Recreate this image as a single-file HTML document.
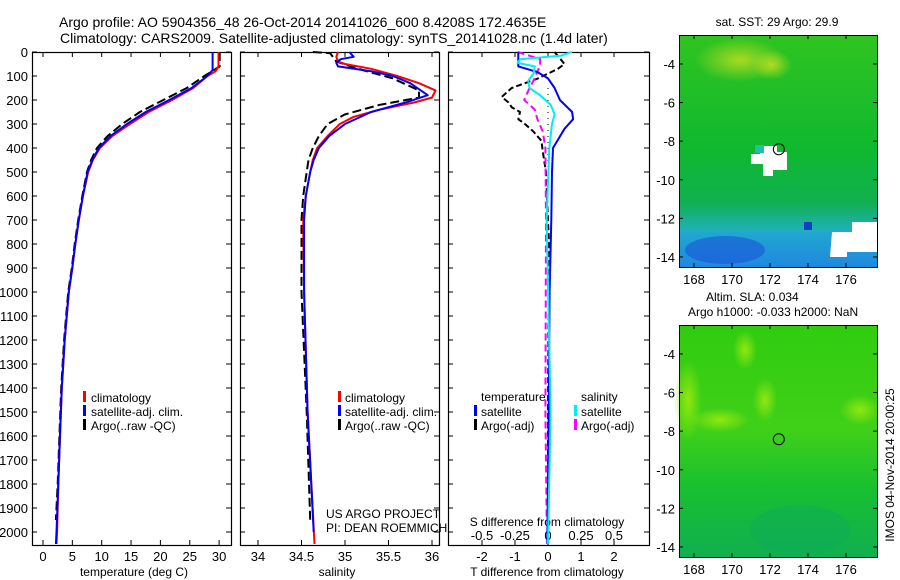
<!DOCTYPE html>
<html><head><meta charset="utf-8"><style>
html,body{margin:0;padding:0;background:#fff;}
svg{display:block;font-family:"Liberation Sans",sans-serif;}
</style></head><body>
<svg id="fig" width="900" height="580" viewBox="0 0 900 580">
<defs>
<radialGradient id="yel1" cx="0.5" cy="0.5" r="0.5"><stop offset="0" stop-color="#c8e020" stop-opacity="0.8"/><stop offset="1" stop-color="#c8e020" stop-opacity="0"/></radialGradient>
<linearGradient id="sstg" x1="0" y1="0" x2="0" y2="1">
<stop offset="0" stop-color="#30c420"/><stop offset="0.5" stop-color="#10b830"/><stop offset="0.72" stop-color="#10b050"/><stop offset="0.85" stop-color="#20b0c0"/><stop offset="1" stop-color="#2070e0"/></linearGradient>
<linearGradient id="slag" x1="0" y1="0" x2="0" y2="1">
<stop offset="0" stop-color="#30cc10"/><stop offset="0.45" stop-color="#40d018"/><stop offset="0.7" stop-color="#18c030"/><stop offset="1" stop-color="#10b050"/></linearGradient>
<radialGradient id="lime" cx="0.5" cy="0.5" r="0.5"><stop offset="0" stop-color="#90e810"/><stop offset="1" stop-color="#90e810" stop-opacity="0"/></radialGradient>
</defs>
<g id="titles" font-size="14" fill="#000">
<text x="59" y="27">Argo profile: AO 5904356_48 26-Oct-2014 20141026_600 8.4208S 172.4635E</text>
<text x="60" y="43">Climatology: CARS2009. Satellite-adjusted climatology: synTS_20141028.nc (1.4d later)</text>
</g>
<g id="plots"></g>
<g id="maps"></g>
</svg>
<script>
// ---------- data ----------
const depthLabels = [0,100,200,300,400,500,600,700,800,900,1000,1100,1200,1300,1400,1500,1600,1700,1800,1900,2000];
const tTicks = [0,5,10,15,20,25,30];
const sTicks = [34,34.5,35,35.5,36];
const sTickLabels = ["34","34.5","35","35.5","36"];
const dTTicks = [-2,-1,0,1,2];
const dSTicks = [-0.5,-0.25,0,0.25,0.5];
const dSTickLabels = ["-0.5","-0.25","0","0.25","0.5"];

const tClimDepth = [0,60,80,100,150,200,250,300,350,400,450,500,600,700,800,900,1000,1200,1400,1600,1800,2000,2050];
const tClim = [29.9,29.9,29.4,28.0,25.6,22.0,18.0,14.8,11.8,9.7,8.5,7.7,6.8,6.1,5.5,5.0,4.4,3.7,3.2,2.9,2.6,2.4,2.3];
const tSatDepth = [0,75,100,150,200,250,300,350,400,450,500,600,700,800,900,1000,1200,1400,1600,1800,2000,2050];
const tSat = [28.9,28.9,28.0,25.3,21.5,17.5,14.3,11.5,9.5,8.4,7.6,6.8,6.1,5.5,5.0,4.4,3.7,3.2,2.9,2.6,2.3,2.2];
const tArgoDepth = [0,60,100,150,200,250,300,350,400,450,500,600,700,800,900,1000,1200,1400,1600,1800,1950];
const tArgo = [30.1,30.1,27.5,24.5,20.5,16.5,13.5,11.0,9.2,8.2,7.5,6.7,6.0,5.4,4.9,4.3,3.6,3.1,2.8,2.5,2.2];

const sClimDepth = [0,20,40,50,70,100,130,160,190,210,240,270,300,350,400,450,500,600,700,1000,1500,2050];
const sClim = [34.92,34.9,34.92,35.0,35.3,35.6,35.85,36.04,36.0,35.8,35.4,35.1,34.94,34.8,34.68,34.63,34.6,34.55,34.52,34.53,34.57,34.65];
const sSatDepth = [0,20,30,45,60,80,100,130,180,210,250,300,350,400,450,500,600,700,1000,1500,2000];
const sSat = [35.05,35.1,34.95,34.9,34.92,35.3,35.55,35.75,35.95,35.7,35.3,35.0,34.82,34.7,34.64,34.6,34.55,34.53,34.53,34.57,34.64];
const sArgoDepth = [0,5,40,75,110,160,190,220,260,300,350,400,450,500,600,700,1000,1500,1950];
const sArgo = [34.63,34.83,34.9,35.2,35.55,35.85,35.85,35.4,35.0,34.8,34.7,34.63,34.58,34.56,34.52,34.5,34.5,34.56,34.6];

const dTSatDepth = [0,60,83,110,150,200,250,280,320,400,500,700,1000,1500,2050];
const dTSat = [-0.9,-0.9,-0.33,0,0.2,0.36,0.73,0.76,0.5,0.15,0.12,0.1,0.05,0.02,-0.02];
const dTArgoDepth = [0,50,70,90,110,150,187,210,230,250,280,300,330,370,420,500,800,1500,1950];
const dTArgo = [0.2,0.5,0.3,0,-0.3,-1.1,-1.4,-1.2,-1.1,-0.85,-0.9,-0.7,-0.45,-0.2,-0.15,-0.06,0.03,0.0,0.0];
const dSSatDepth = [0,15,30,45,60,90,120,150,180,220,260,300,400,700,1500,2050];
const dSSat = [0.18,0.1,-0.21,-0.23,-0.1,-0.11,-0.15,-0.14,-0.06,0.02,0.05,0.03,0.01,-0.01,0.02,0.0];
const dSArgoDepth = [0,30,60,80,110,150,200,240,280,330,400,700,1500,1950];
const dSArgo = [-0.23,-0.06,-0.06,-0.08,-0.1,-0.14,-0.18,-0.1,-0.08,-0.04,-0.02,-0.015,-0.02,-0.01];

const mapLats = [-4,-6,-8,-10,-12,-14];
const mapLons = [168,170,172,174,176];
const argoLon = 172.4635, argoLat = -8.4208;

// ---------- helpers ----------
const NS="http://www.w3.org/2000/svg";
function mk(tag, attrs, parent){const e=document.createElementNS(NS,tag);for(const k in attrs)e.setAttribute(k,attrs[k]);parent.appendChild(e);return e;}
const plots=document.getElementById('plots');
const maps=document.getElementById('maps');
const Y0=52, Y1=545, PXM=0.24;
const yD = d => Y0 + d*PXM;
const xT = v => 43 + v*5.87;
const xS = v => 258 + (v-34)*87;
const xDT = v => 548 + v*33;
const xDS = v => 548 + v*132;

function frame(x0,x1,name){
  const r=mk('rect',{x:x0+0.5,y:Y0+0.5,width:x1-x0,height:Y1-Y0,fill:'none',stroke:'#000','stroke-width':1.2},plots);
  
  
}
function xticks(vals,labels,fx,ly,name){
  vals.forEach((v,i)=>{
    const x=fx(v);
    mk('line',{x1:x,x2:x,y1:Y0,y2:Y0+5,stroke:'#000'},plots);
    mk('line',{x1:x,x2:x,y1:Y1,y2:Y1-5,stroke:'#000'},plots);
    const t=mk('text',{x:x,y:ly,'text-anchor':'middle','font-size':13},plots);
    t.textContent=labels[i];
    
    
  });
}
function line(depths,vals,fx,color,dash,name,w){
  const pts=depths.map((d,i)=>fx(vals[i]).toFixed(1)+','+yD(d).toFixed(1)).join(' ');
  const a={points:pts,fill:'none',stroke:color,'stroke-width':w||2,'stroke-linejoin':'round'};
  if(dash)a['stroke-dasharray']=dash;
  const p=mk('polyline',a,plots);
  
  
}
function txt(x,y,s,name,size,anchor,parent){
  const t=mk('text',{x:x,y:y,'font-size':size||12,'text-anchor':anchor||'start'},parent||plots);
  t.textContent=s;
  
  
  return t;
}
function legendBar(x,y,color,name){
  const r=mk('rect',{x:x,y:y-9,width:3,height:11,fill:color},plots);
  
  
}

depthLabels.forEach(d=>{
  const y=yD(d);
  txt(28,y+5,String(d),'depth-tick-label',13,'end');
  [[32,231],[240,439],[448,649]].forEach(([a,b])=>{
    mk('line',{x1:a,x2:a+5,y1:y,y2:y,stroke:'#000'},plots);
    mk('line',{x1:b,x2:b-5,y1:y,y2:y,stroke:'#000'},plots);
  });
});

// panel 1 temperature
frame(32,231,'temperature-panel');
xticks(tTicks,tTicks.map(String),xT,561,'temperature-x');
txt(134,576,'temperature (deg C)','temperature-x-title',12,'middle');
line(tArgoDepth,tArgo,xT,'#000','9,4','temperature-argo-line');
line(tClimDepth,tClim,xT,'#f00',null,'temperature-climatology-line');
line(tSatDepth,tSat,xT,'#00f',null,'temperature-satellite-line');
legendBar(83,400,'#f00','legend-climatology-swatch');
txt(91,402,'climatology','legend-climatology',12);
legendBar(83,414,'#00f','legend-satellite-swatch');
txt(91,416,'satellite-adj. clim.','legend-satellite-adj',12);
legendBar(83,428,'#000','legend-argo-swatch');
txt(91,430,'Argo(..raw -QC)','legend-argo',12);

// panel 2 salinity
frame(240,439,'salinity-panel');
xticks(sTicks,sTickLabels,xS,561,'salinity-x');
txt(337,576,'salinity','salinity-x-title',12,'middle');
line(sArgoDepth,sArgo,xS,'#000','9,4','salinity-argo-line');
line(sClimDepth,sClim,xS,'#f00',null,'salinity-climatology-line');
line(sSatDepth,sSat,xS,'#00f',null,'salinity-satellite-line');
legendBar(338,400,'#f00','legend2-climatology-swatch');
txt(345,402,'climatology','legend2-climatology',12);
legendBar(338,414,'#00f','legend2-satellite-swatch');
txt(345,416,'satellite-adj. clim.','legend2-satellite-adj',12);
legendBar(338,428,'#000','legend2-argo-swatch');
txt(345,430,'Argo(..raw -QC)','legend2-argo',12);
txt(326,518,'US ARGO PROJECT','project-credit',12);
txt(326,532,'PI: DEAN ROEMMICH','pi-credit',12);

// panel 3 differences
frame(448,649,'difference-panel');
dTTicks.forEach(v=>{const x=xDT(v);mk('line',{x1:x,x2:x,y1:Y0,y2:Y0+5,stroke:'#000'},plots);mk('line',{x1:x,x2:x,y1:Y1,y2:Y1-5,stroke:'#000'},plots);});
dTTicks.forEach(v=>txt(xDT(v),561,String(v),'t-diff-tick-label',13,'middle'));
dSTicks.forEach((v,i)=>txt(xDS(v),540,dSTickLabels[i],'s-diff-tick-label',13,'middle'));
txt(547,526,'S difference from climatology','s-diff-title',12,'middle');
txt(547,576,'T difference from climatology','t-diff-title',12,'middle');
mk('line',{x1:548,x2:548,y1:yD(150),y2:yD(600),stroke:'#000','stroke-dasharray':'1,5'},plots);
line(dTArgoDepth,dTArgo,xDT,'#000','6,3','t-diff-argo-line');
line(dSArgoDepth,dSArgo,xDS,'#f0f','7,4','s-diff-argo-line');
line(dTSatDepth,dTSat,xDT,'#00f',null,'t-diff-satellite-line');
line(dSSatDepth,dSSat,xDS,'#0ee',null,'s-diff-satellite-line');
txt(481,401,'temperature','legend3-temperature',12);
legendBar(474,414,'#00f','legend3-t-satellite-swatch');
txt(481,416,'satellite','legend3-t-satellite',12);
legendBar(474,428,'#000','legend3-t-argo-swatch');
txt(481,430,'Argo(-adj)','legend3-t-argo',12);
txt(581,401,'salinity','legend3-salinity',12);
legendBar(574,414,'#0ee','legend3-s-satellite-swatch');
txt(581,416,'satellite','legend3-s-satellite',12);
legendBar(574,428,'#f0f','legend3-s-argo-swatch');
txt(581,430,'Argo(-adj)','legend3-s-argo',12);

// ---------- maps ----------
function drawMap(top,bottom,latTop,kind){
  const L=679,R=877;
  const xL=lon=>694+(lon-168)*19;
  const yL=lat=>top+(latTop-lat)*19.3;
  const bg=mk('rect',{x:L,y:top,width:R-L,height:bottom-top,fill:kind==='sst'?'url(#sstg)':'url(#slag)'},maps);
  
  
  if(kind==='sst'){
    mk('ellipse',{cx:740,cy:60,rx:45,ry:22,fill:'url(#yel1)'},maps);
    mk('ellipse',{cx:772,cy:65,rx:20,ry:15,fill:'url(#yel1)'},maps);
    mk('rect',{x:679,y:232,width:198,height:35,fill:'#20a0e0',opacity:0.5},maps);
    mk('ellipse',{cx:725,cy:250,rx:40,ry:14,fill:'#1848d8',opacity:0.5},maps);
    mk('path',{d:'M760 146h17v6h10v18h-14v6h-10v-12h-12v-10h9z',fill:'#fff'},maps);
    mk('path',{d:'M755 145h9v8h-9z',fill:'#20c0a0'},maps);
    mk('path',{d:'M832 232h20v-10h25v30h-30v5h-17z',fill:'#fff'},maps);
    mk('rect',{x:804,y:222,width:8,height:8,fill:'#1040c0'},maps);
  } else {
    mk('ellipse',{cx:688,cy:400,rx:14,ry:40,fill:'url(#lime)'},maps);
    mk('ellipse',{cx:765,cy:400,rx:12,ry:22,fill:'url(#lime)'},maps);
    mk('ellipse',{cx:745,cy:350,rx:12,ry:20,fill:'url(#lime)'},maps);
    mk('ellipse',{cx:720,cy:420,rx:30,ry:12,fill:'url(#lime)'},maps);
    mk('ellipse',{cx:860,cy:410,rx:20,ry:15,fill:'url(#lime)'},maps);
    mk('ellipse',{cx:800,cy:530,rx:50,ry:25,fill:'#10a860',opacity:0.4},maps);
  }
  const fr=mk('rect',{x:L+0.5,y:top+0.5,width:R-L,height:bottom-top,fill:'none',stroke:'#000'},maps);
  
  
  mapLats.forEach(lat=>{
    const y=yL(lat);
    mk('line',{x1:L,x2:L+4,y1:y,y2:y,stroke:'#000'},maps);
    mk('line',{x1:R,x2:R-4,y1:y,y2:y,stroke:'#000'},maps);
    txt(675,y+5,String(lat),kind+'-lat-label',13,'end',maps);
  });
  mapLons.forEach(lon=>{
    const x=xL(lon);
    mk('line',{x1:x,x2:x,y1:top,y2:top+4,stroke:'#000'},maps);
    mk('line',{x1:x,x2:x,y1:bottom,y2:bottom-4,stroke:'#000'},maps);
    txt(x,bottom+17,String(lon),kind+'-lon-label',13,'middle',maps);
  });
  const c=mk('circle',{cx:xL(argoLon),cy:yL(argoLat),r:5.5,fill:'none',stroke:'#000','stroke-width':1},maps);
  
  
}
drawMap(35,267,-2.5,'sst');
drawMap(325,557,-2.5,'sla');
txt(777,26,'sat. SST: 29 Argo: 29.9','sst-map-title',12,'middle',maps);
txt(706,301,'Altim. SLA: 0.034','sla-map-title',12,'start',maps);
txt(688,316,'Argo h1000: -0.033 h2000: NaN','sla-map-subtitle',12,'start',maps);
const ts=txt(0,0,'IMOS 04-Nov-2014 20:00:25','imos-timestamp',12,'middle',maps);
ts.setAttribute('transform','translate(894,465) rotate(-90)');
</script>
</body></html>
